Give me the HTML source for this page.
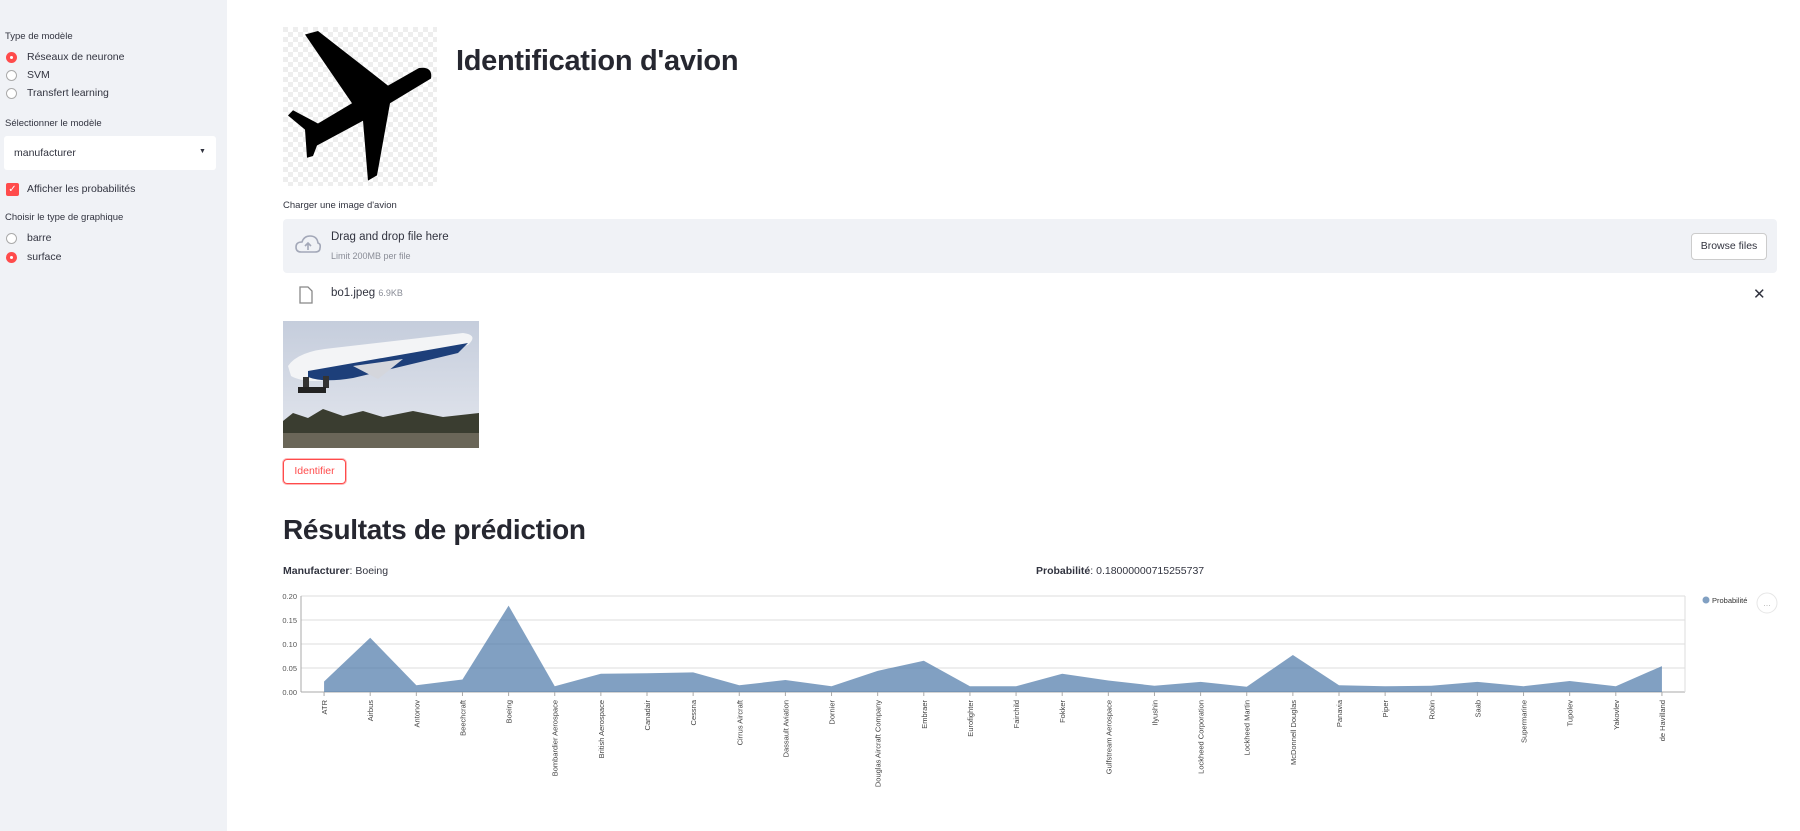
<!DOCTYPE html>
<html><head><meta charset="utf-8"><style>
body{margin:0;width:1800px;height:831px;position:relative;background:#fff;font-family:"Liberation Sans",sans-serif;color:#31333f;overflow:hidden}
.abs{position:absolute}
.sb{left:0;top:0;width:227px;height:831px;background:#f0f2f6}
.lbl{font-size:9.5px;color:#31333f}
.radio{width:11px;height:11px;border-radius:50%;border:1px solid #aaa;background:#fff;box-sizing:border-box}
.radio.on{background:#ff4b4b;border:none}
.radio.on::after{content:"";position:absolute;left:4px;top:4px;width:3px;height:3px;border-radius:50%;background:#fff}
.rt{font-size:10.5px}
</style></head><body>
<div class="abs sb">
 <div class="abs lbl" style="left:5px;top:31px">Type de modèle</div>
 <div class="abs radio on" style="left:6px;top:52px"></div><div class="abs rt" style="left:27px;top:51px">Réseaux de neurone</div>
 <div class="abs radio" style="left:6px;top:70px"></div><div class="abs rt" style="left:27px;top:69px">SVM</div>
 <div class="abs radio" style="left:6px;top:88px"></div><div class="abs rt" style="left:27px;top:87px">Transfert learning</div>
 <div class="abs lbl" style="left:5px;top:118px">Sélectionner le modèle</div>
 <div class="abs" style="left:4px;top:136px;width:212px;height:34px;background:#fff;border-radius:3px">
  <span class="abs rt" style="left:10px;top:11px">manufacturer</span><span class="abs" style="left:195px;top:12px;font-size:7px">▼</span></div>
 <div class="abs" style="left:6px;top:183px;width:13px;height:13px;background:#ff4b4b;border-radius:2px;color:#fff;font-size:10px;line-height:13px;text-align:center">✓</div>
 <div class="abs rt" style="left:27px;top:183px">Afficher les probabilités</div>
 <div class="abs lbl" style="left:5px;top:212px">Choisir le type de graphique</div>
 <div class="abs radio" style="left:6px;top:233px"></div><div class="abs rt" style="left:27px;top:232px">barre</div>
 <div class="abs radio on" style="left:6px;top:252px"></div><div class="abs rt" style="left:27px;top:251px">surface</div>
</div>
<svg class="abs" style="left:283px;top:27px" width="154" height="159">
 <defs><pattern id="ck" width="10" height="10" patternUnits="userSpaceOnUse"><rect width="10" height="10" fill="#fff"/><rect width="5" height="5" fill="#eee"/><rect x="5" y="5" width="5" height="5" fill="#eee"/></pattern></defs>
 <rect width="154" height="159" fill="url(#ck)"/>
 <path d="M22 12 L35 8 L105 70 L136 50 Q150 48 148 62 L107 90 L94 172 L85 178 L80 110 L34 138 L30 150 L24 152 L22 120 L5 104 L10 98 L35 113 L69 90 Z" transform="translate(0,-3) scale(1,0.88)" fill="#000"/>
</svg>
<div class="abs" style="left:456px;top:45px;font-size:29px;font-weight:bold;color:#262730;letter-spacing:-0.3px">Identification d'avion</div>
<div class="abs lbl" style="left:283px;top:200px">Charger une image d'avion</div>
<div class="abs" style="left:283px;top:219px;width:1494px;height:54px;background:#f0f2f6;border-radius:4px">
 <svg class="abs" style="left:12px;top:16px" width="26" height="20"><path d="M6 17 Q1 17 1 12 Q1 7 7 7 Q9 1 15 1 Q22 1 23 8 Q26 9 25 13 Q25 17 20 17 Z" fill="none" stroke="#a3a8b8" stroke-width="1.6"/><path d="M13 15 V8 M10 11 L13 8 L16 11" stroke="#a3a8b8" stroke-width="1.6" fill="none"/></svg>
 <div class="abs" style="left:48px;top:12px;font-size:11.5px">Drag and drop file here</div>
 <div class="abs" style="left:48px;top:32px;font-size:9px;color:#8a8d97">Limit 200MB per file</div>
 <div class="abs" style="left:1408px;top:14px;width:74px;height:25px;background:#fff;border:1px solid #ccc;border-radius:4px;font-size:10.5px;line-height:25px;text-align:center">Browse files</div>
</div>
<svg class="abs" style="left:299px;top:286px" width="14" height="18"><path d="M1 1 H9 L13 5 V17 H1 Z" fill="none" stroke="#888" stroke-width="1.3"/></svg>
<div class="abs" style="left:331px;top:287px;font-size:11.5px">bo1.jpeg <span style="font-size:9px;color:#8a8d97">6.9KB</span></div>
<div class="abs" style="left:1753px;top:285px;font-size:15px">✕</div>
<svg class="abs" style="left:283px;top:321px" width="196" height="127">
 <defs><linearGradient id="sky" x1="0" y1="0" x2="0" y2="1"><stop offset="0" stop-color="#c5cddc"/><stop offset="1" stop-color="#e4e7ee"/></linearGradient></defs>
 <rect width="196" height="127" fill="url(#sky)"/>
 <path d="M0 100 L10 92 L25 97 L40 88 L60 95 L80 90 L100 96 L130 90 L160 96 L196 92 V127 H0Z" fill="#3a3d30"/>
 <rect y="112" width="196" height="15" fill="#6a6658"/>
 <path d="M5 45 Q15 30 50 27 L180 12 Q196 14 185 24 L70 55 Q25 65 8 55Z" fill="#f3f4f6"/>
 <path d="M25 50 L185 22 L175 32 L70 57 Q40 62 25 56Z" fill="#1d3f7a"/>
 <path d="M70 45 L120 38 L95 58Z" fill="#d4d6dc"/>
 <rect x="20" y="56" width="6" height="12" fill="#333"/><rect x="40" y="55" width="6" height="12" fill="#333"/><rect x="15" y="66" width="28" height="6" fill="#222"/>
</svg>
<div class="abs" style="left:283px;top:459px;width:61px;height:23px;border:1px solid #ff4b4b;border-radius:4px;box-shadow:0 0 0 1px rgba(255,75,75,.4);color:#ff4b4b;font-size:10.5px;line-height:23px;text-align:center">Identifier</div>
<div class="abs" style="left:283px;top:514px;font-size:28px;font-weight:bold;color:#262730;letter-spacing:-0.3px">Résultats de prédiction</div>
<div class="abs" style="left:283px;top:565px;font-size:10.5px"><b>Manufacturer</b>: Boeing</div>
<div class="abs" style="left:1036px;top:565px;font-size:10.5px"><b>Probabilité</b>: 0.18000000715255737</div>
<svg id="chart" class="abs" style="left:0;top:0" width="1800" height="831"></svg>
<script>
const categories=["ATR","Airbus","Antonov","Beechcraft","Boeing","Bombardier Aerospace","British Aerospace","Canadair","Cessna","Cirrus Aircraft","Dassault Aviation","Dornier","Douglas Aircraft Company","Embraer","Eurofighter","Fairchild","Fokker","Gulfstream Aerospace","Ilyushin","Lockheed Corporation","Lockheed Martin","McDonnell Douglas","Panavia","Piper","Robin","Saab","Supermarine","Tupolev","Yakovlev","de Havilland"];
const probabilities=[0.022,0.113,0.014,0.026,0.180,0.012,0.038,0.039,0.041,0.014,0.025,0.012,0.044,0.065,0.012,0.012,0.038,0.024,0.013,0.021,0.011,0.077,0.014,0.012,0.013,0.021,0.012,0.023,0.012,0.054];
const yTicks=[0,0.05,0.10,0.15,0.20];
const yTickLabels=["0.00","0.05","0.10","0.15","0.20"];
const svg=document.getElementById('chart');const NS='http://www.w3.org/2000/svg';
const L=301,R=1685,T=596,B=692;
const step=(R-L)/categories.length;
const x=i=>L+step*(i+0.5);
const y=v=>B-(v/0.2)*(B-T);
function mk(t,a){const e=document.createElementNS(NS,t);for(const k in a)e.setAttribute(k,a[k]);svg.appendChild(e);return e;}
yTicks.forEach((t,i)=>{
 const g=mk('line',{x1:L,x2:R,y1:y(t),y2:y(t),stroke:i==0?'#aaa':'#ddd'});
 
 
 const tx=mk('text',{x:L-4,y:y(t)+3,'text-anchor':'end','font-size':7.5,fill:'#555','font-family':'Liberation Sans'});
 tx.textContent=yTickLabels[i];
 
 
});
const ax=mk('line',{x1:L,x2:L,y1:T,y2:B,stroke:'#aaa'});


const rb=mk('line',{x1:R,x2:R,y1:T,y2:B,stroke:'#ddd'});


let d='M'+x(0)+' '+y(0);
probabilities.forEach((v,i)=>{d+=' L'+x(i)+' '+y(v);});
d+=' L'+x(probabilities.length-1)+' '+y(0)+' Z';
const area=mk('path',{d:d,fill:'#4c78a8','fill-opacity':0.7});


categories.forEach((c,i)=>{
 const tk=mk('line',{x1:x(i),x2:x(i),y1:B,y2:B+4,stroke:'#aaa'});
 
 
 const t=mk('text',{transform:`translate(${x(i)+3},${B+8}) rotate(-90)`,'text-anchor':'end','font-size':7.5,fill:'#444','font-family':'Liberation Sans'});
 t.textContent=c;
 
 
});
const lc=mk('circle',{cx:1706,cy:600,r:3.5,fill:'#4c78a8','fill-opacity':0.7});


const lt=mk('text',{x:1712,y:603,'font-size':7.5,fill:'#333','font-family':'Liberation Sans'});
lt.textContent='Probabilité';


const mc=mk('circle',{cx:1767,cy:603,r:10,fill:'#fff',stroke:'#e6e6e6'});


const mt=mk('text',{x:1767,y:606,'text-anchor':'middle','font-size':8,fill:'#aaa'});
mt.textContent='…';


</script>
</body></html>
